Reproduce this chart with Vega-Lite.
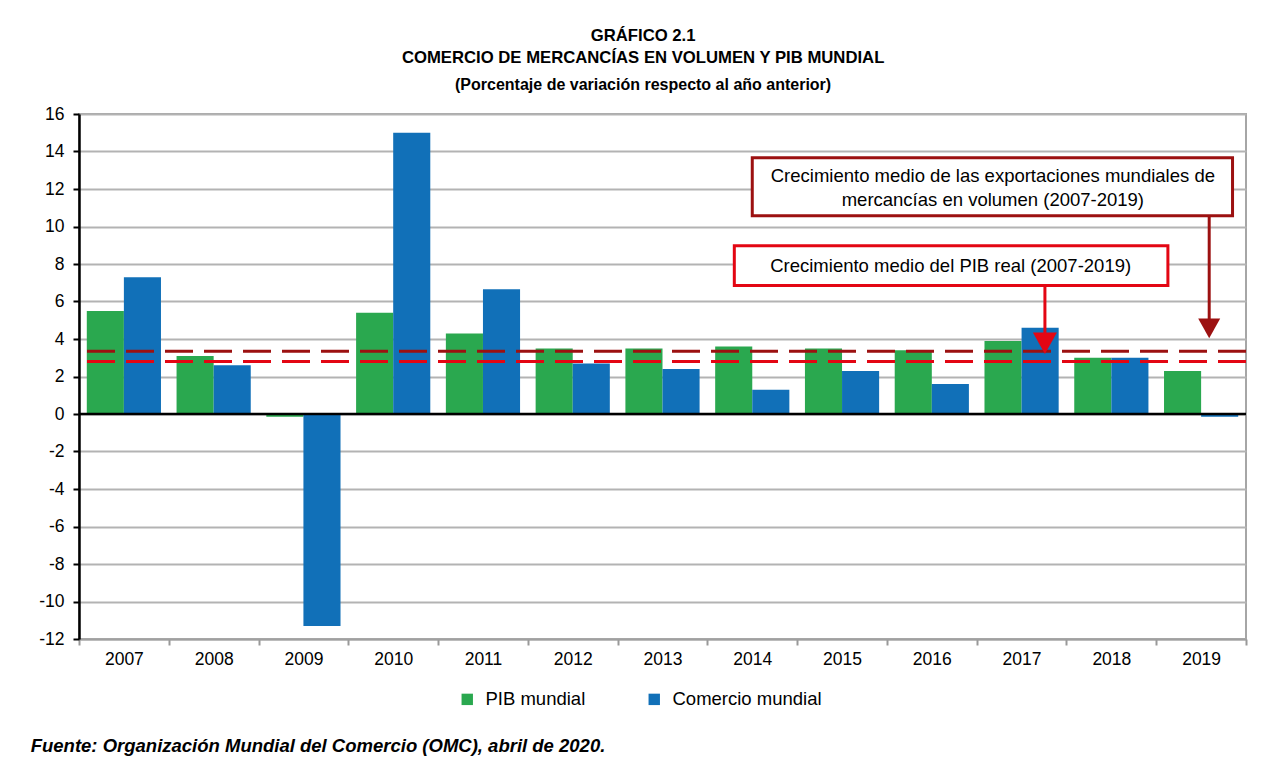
{
  "$schema": "https://vega.github.io/schema/vega-lite/v6.json",
  "padding": {"left": 30, "top": 27, "right": 18, "bottom": 4},
  "background": "white",
  "config": {
    "view": {"stroke": "#a6a6a6", "strokeWidth": 2},
    "font": "Liberation Sans"
  },
  "title": {
    "text": "Fuente: Organización Mundial del Comercio (OMC), abril de 2020.",
    "orient": "bottom",
    "anchor": "start",
    "frame": "bounds",
    "font": "Liberation Sans",
    "fontSize": 18.5,
    "fontWeight": "bold",
    "fontStyle": "italic",
    "color": "black",
    "offset": 28,
    "dx": -7
  },
  "vconcat": [
    {
      "width": 1167,
      "height": 525,
      "title": {
        "text": ["GRÁFICO 2.1", "COMERCIO DE MERCANCÍAS EN VOLUMEN Y PIB MUNDIAL"],
        "subtitle": "(Porcentaje de variación respecto al año anterior)",
        "anchor": "middle",
        "frame": "bounds",
        "font": "Liberation Sans",
        "fontSize": 16.7,
        "fontWeight": "bold",
        "lineHeight": 22,
        "color": "black",
        "subtitleFont": "Liberation Sans",
        "subtitleFontSize": 16,
        "subtitleFontWeight": "bold",
        "subtitleColor": "black",
        "subtitlePadding": 10,
        "offset": 12
      },
      "resolve": {"scale": {"x": "independent"}},
      "encoding": {
        "y": {
          "field": "valor",
          "type": "quantitative",
          "title": null,
          "scale": {"domain": [-12, 16], "nice": false, "zero": false},
          "axis": {
            "title": null,
            "values": [-12, -10, -8, -6, -4, -2, 0, 2, 4, 6, 8, 10, 12, 14, 16],
            "labelOverlap": false,
            "grid": true,
            "gridColor": "#b3b3b3",
            "gridWidth": 2,
            "domainColor": "black",
            "domainWidth": 2.5,
            "tickColor": "black",
            "tickWidth": 2,
            "tickSize": 6,
            "labelFont": "Liberation Sans",
            "labelFontSize": 17.5,
            "labelColor": "black",
            "labelPadding": 9,
            "labelExpr": "toString(datum.value)"
          }
        }
      },
      "layer": [
        {
          "data": {
            "values": [
              {"anio": "2007", "serie": "PIB mundial", "valor": 5.5},
              {"anio": "2007", "serie": "Comercio mundial", "valor": 7.3},
              {"anio": "2008", "serie": "PIB mundial", "valor": 3.1},
              {"anio": "2008", "serie": "Comercio mundial", "valor": 2.6},
              {"anio": "2009", "serie": "PIB mundial", "valor": -0.15},
              {"anio": "2009", "serie": "Comercio mundial", "valor": -11.3},
              {"anio": "2010", "serie": "PIB mundial", "valor": 5.4},
              {"anio": "2010", "serie": "Comercio mundial", "valor": 15.0},
              {"anio": "2011", "serie": "PIB mundial", "valor": 4.3},
              {"anio": "2011", "serie": "Comercio mundial", "valor": 6.65},
              {"anio": "2012", "serie": "PIB mundial", "valor": 3.5},
              {"anio": "2012", "serie": "Comercio mundial", "valor": 2.7},
              {"anio": "2013", "serie": "PIB mundial", "valor": 3.5},
              {"anio": "2013", "serie": "Comercio mundial", "valor": 2.4},
              {"anio": "2014", "serie": "PIB mundial", "valor": 3.6},
              {"anio": "2014", "serie": "Comercio mundial", "valor": 1.3},
              {"anio": "2015", "serie": "PIB mundial", "valor": 3.5},
              {"anio": "2015", "serie": "Comercio mundial", "valor": 2.3},
              {"anio": "2016", "serie": "PIB mundial", "valor": 3.4},
              {"anio": "2016", "serie": "Comercio mundial", "valor": 1.6},
              {"anio": "2017", "serie": "PIB mundial", "valor": 3.9},
              {"anio": "2017", "serie": "Comercio mundial", "valor": 4.6},
              {"anio": "2018", "serie": "PIB mundial", "valor": 3.0},
              {"anio": "2018", "serie": "Comercio mundial", "valor": 3.0},
              {"anio": "2019", "serie": "PIB mundial", "valor": 2.3},
              {"anio": "2019", "serie": "Comercio mundial", "valor": -0.15}
            ]
          },
          "mark": {"type": "bar"},
          "encoding": {
            "x": {
              "field": "anio",
              "type": "nominal",
              "scale": {"paddingInner": 0, "paddingOuter": 0},
              "axis": {
                "title": null,
                "labelAngle": 0,
                "tickBand": "extent",
                "tickColor": "#999999",
                "tickWidth": 2,
                "tickSize": 6,
                "domainColor": "#a0a0a0",
                "domainWidth": 2,
                "labelFont": "Liberation Sans",
                "labelFontSize": 17.5,
                "labelColor": "black",
                "labelPadding": 5,
                "grid": false
              }
            },
            "xOffset": {
              "field": "serie",
              "type": "nominal",
              "sort": ["PIB mundial", "Comercio mundial"],
              "scale": {"paddingInner": 0, "paddingOuter": 0.21}
            },
            "color": {
              "field": "serie",
              "type": "nominal",
              "scale": {"domain": ["PIB mundial", "Comercio mundial"], "range": ["#2aa84f", "#1170b8"]},
              "legend": {
                "title": null,
                "orient": "none",
                "direction": "horizontal",
                "legendX": 379,
                "legendY": 576,
                "symbolType": "square",
                "symbolSize": 130,
                "symbolStrokeWidth": 0,
                "labelFont": "Liberation Sans",
                "labelFontSize": 18.5,
                "labelColor": "black",
                "labelOffset": 9,
                "columnPadding": 59
              }
            }
          }
        },
        {
          "data": {"values": [{"valor": 0}]},
          "mark": {"type": "rule", "color": "black", "strokeWidth": 2.5},
          "encoding": {}
        },
        {
          "data": {"values": [{"valor": 3.35}]},
          "mark": {"type": "rule", "color": "#9c1111", "strokeWidth": 3, "strokeDash": [28, 11]},
          "encoding": {}
        },
        {
          "data": {"values": [{"valor": 2.8}]},
          "mark": {"type": "rule", "color": "#e30613", "strokeWidth": 3, "strokeDash": [28, 11]},
          "encoding": {}
        },
        {
          "layer": [
            {
              "data": {"values": [{"u1": 7.5, "u2": 12.85, "valor": 13.67, "valor2": 10.58}]},
              "mark": {"type": "rect", "fill": "white", "stroke": "#9c1111", "strokeWidth": 3},
              "encoding": {
                "x": {"field": "u1", "type": "quantitative", "scale": {"domain": [0, 13], "nice": false, "zero": false}, "axis": null},
                "x2": {"field": "u2"},
                "y2": {"field": "valor2"}
              }
            },
            {
              "data": {"values": [{"u1": 7.3, "u2": 12.13, "valor": 8.97, "valor2": 6.86}]},
              "mark": {"type": "rect", "fill": "white", "stroke": "#e30613", "strokeWidth": 3},
              "encoding": {
                "x": {"field": "u1", "type": "quantitative", "axis": null},
                "x2": {"field": "u2"},
                "y2": {"field": "valor2"}
              }
            },
            {
              "data": {"values": [
                {"u": 10.18, "valor": 12.69, "texto": "Crecimiento medio de las exportaciones mundiales de"},
                {"u": 10.18, "valor": 11.44, "texto": "mercancías en volumen (2007-2019)"},
                {"u": 9.71, "valor": 7.9, "texto": "Crecimiento medio del PIB real (2007-2019)"}
              ]},
              "mark": {"type": "text", "font": "Liberation Sans", "fontSize": 18.5, "color": "black", "align": "center", "baseline": "middle"},
              "encoding": {
                "x": {"field": "u", "type": "quantitative", "axis": null},
                "text": {"field": "texto"}
              }
            },
            {
              "data": {"values": [{"u": 12.59, "valor": 10.58, "valor2": 4.8}]},
              "mark": {"type": "rule", "color": "#9c1111", "strokeWidth": 3},
              "encoding": {
                "x": {"field": "u", "type": "quantitative", "axis": null},
                "y2": {"field": "valor2"}
              }
            },
            {
              "data": {"values": [{"u": 10.76, "valor": 6.86, "valor2": 4.0}]},
              "mark": {"type": "rule", "color": "#e30613", "strokeWidth": 3},
              "encoding": {
                "x": {"field": "u", "type": "quantitative", "axis": null},
                "y2": {"field": "valor2"}
              }
            },
            {
              "data": {"values": [{"u": 12.59, "valor": 4.57}]},
              "mark": {"type": "point", "filled": true, "shape": "M-1,-0.9L1,-0.9L0,0.9Z", "size": 484, "color": "#9c1111", "opacity": 1, "strokeWidth": 0},
              "encoding": {
                "x": {"field": "u", "type": "quantitative", "axis": null}
              }
            },
            {
              "data": {"values": [{"u": 10.76, "valor": 3.77}]},
              "mark": {"type": "point", "filled": true, "shape": "M-1,-0.9L1,-0.9L0,0.9Z", "size": 576, "color": "#e30613", "opacity": 1, "strokeWidth": 0},
              "encoding": {
                "x": {"field": "u", "type": "quantitative", "axis": null}
              }
            }
          ]
        }
      ]
    }
  ]
}
